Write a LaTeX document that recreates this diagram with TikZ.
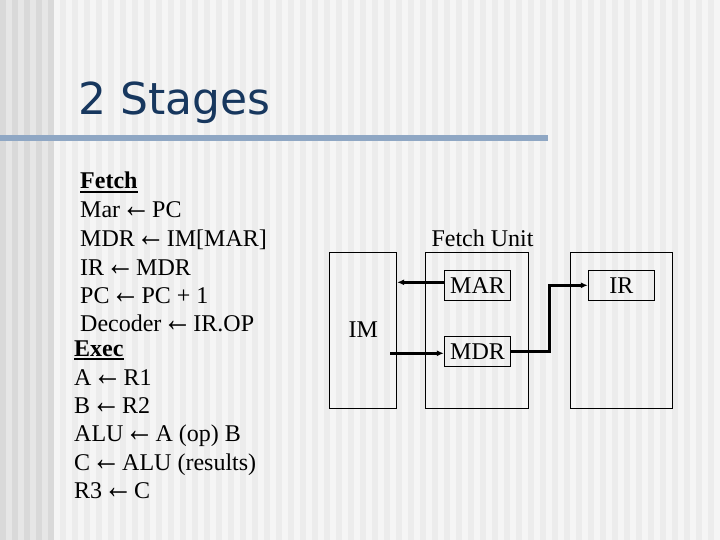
\documentclass[tikz,border=0pt]{standalone}
\usepackage{fontspec}
\setmainfont{Liberation Serif}
\newfontfamily\titlefont{DejaVu Sans}
\newcommand{\la}{\raisebox{0pt}[0pt][0pt]{\makebox[20pt]{\scalebox{1.2}[1.5]{←}}}}
\usetikzlibrary{arrows.meta}
\definecolor{bgA}{HTML}{F5F5F5}
\definecolor{bgB}{HTML}{ECECEC}
\definecolor{leftA}{HTML}{E6E6E6}
\definecolor{leftB}{HTML}{D9D9D9}
\definecolor{titleblue}{HTML}{17375E}
\definecolor{rulecol}{HTML}{8FA7C4}
\tikzset{
  txt/.style={anchor=base west, inner sep=0pt, font=\fontsize{24}{28}\selectfont},
  lbl/.style={inner sep=0pt, font=\fontsize{24}{28}\selectfont},
  box/.style={draw=black, line width=1pt, inner sep=0pt, font=\fontsize{24}{28}\selectfont},
  conn/.style={line width=2.4pt, -{Latex[length=7pt,width=6pt]}},
  ulin/.style={line width=1.8pt}
}
\begin{document}
\begin{tikzpicture}[x=1pt,y=-1pt]
\useasboundingbox (0,0) rectangle (720,540);
% background stripes
\fill[bgA] (0,0) rectangle (720,540);
\foreach \i in {0,...,59} { \fill[bgB] (\i*12,0) rectangle ++(6,540); }
\fill[leftA] (0,0) rectangle (54,540);
\foreach \i in {0,...,4} { \fill[leftB] (\i*12,0) rectangle ++(6,540); }
% title
\node[anchor=base west, inner sep=0pt, font=\titlefont\fontsize{44}{50}\selectfont, text=titleblue] (title) at (78,115) {2 Stages};
\fill[rulecol] (0,135) rectangle (548,141);
% fetch list
\node[txt, font=\fontsize{24}{28}\selectfont\bfseries] (fetch) at (80,189) {Fetch};
\draw[ulin] ([yshift=-3pt]fetch.base west) -- ([yshift=-3pt]fetch.base east);
\node[txt] (l1) at (80,217.7) {Mar \la{} PC};
\node[txt] (l2) at (80,246) {MDR \la{} IM[MAR]};
\node[txt] (l3) at (80,275) {IR \la{} MDR};
\node[txt] (l4) at (80,303.3) {PC \la{} PC + 1};
\node[txt] (l5) at (80,331.7) {Decoder \la{} IR.OP};
\node[txt, font=\fontsize{24}{28}\selectfont\bfseries] (exec) at (74,356) {Exec};
\draw[ulin] ([yshift=-3pt]exec.base west) -- ([yshift=-3pt]exec.base east);
\node[txt] (e1) at (74,385) {A \la{} R1};
\node[txt] (e2) at (74,413.3) {B \la{} R2};
\node[txt] (e3) at (74,441.7) {ALU \la{} A (op) B};
\node[txt] (e4) at (74,470) {C \la{} ALU (results)};
\node[txt] (e5) at (74,498.3) {R3 \la{} C};
% diagram
\node[box, minimum width=66.7pt, minimum height=156pt] (im) at (363.3,330) {IM};
\node[box, minimum width=102.7pt, minimum height=156pt] (fu) at (477.3,330) {};
\node[lbl, anchor=base] (fulbl) at (482.5,246.7) {Fetch Unit};
\node[box, minimum width=102pt, minimum height=156pt] (rb) at (621,330) {};
\node[box, minimum width=66.4pt, minimum height=30pt] (mar) at (477.5,285.3) {MAR};
\node[box, minimum width=66.4pt, minimum height=30pt] (mdr) at (477.5,351.3) {MDR};
\node[box, minimum width=66pt, minimum height=30pt] (ir) at (621.3,285.3) {IR};
\coordinate (a1) at ([yshift=3pt]mar.west);
\draw[conn] (a1) -- (a1 -| im.east);
\coordinate (a2) at ([yshift=-2pt]mdr.west);
\coordinate (s2) at (390,353.3);
\draw[conn] (s2) -- (a2);
\draw[conn] (mdr.east) -- ++(38.3,0) |- (ir.west);
\end{tikzpicture}
\end{document}
